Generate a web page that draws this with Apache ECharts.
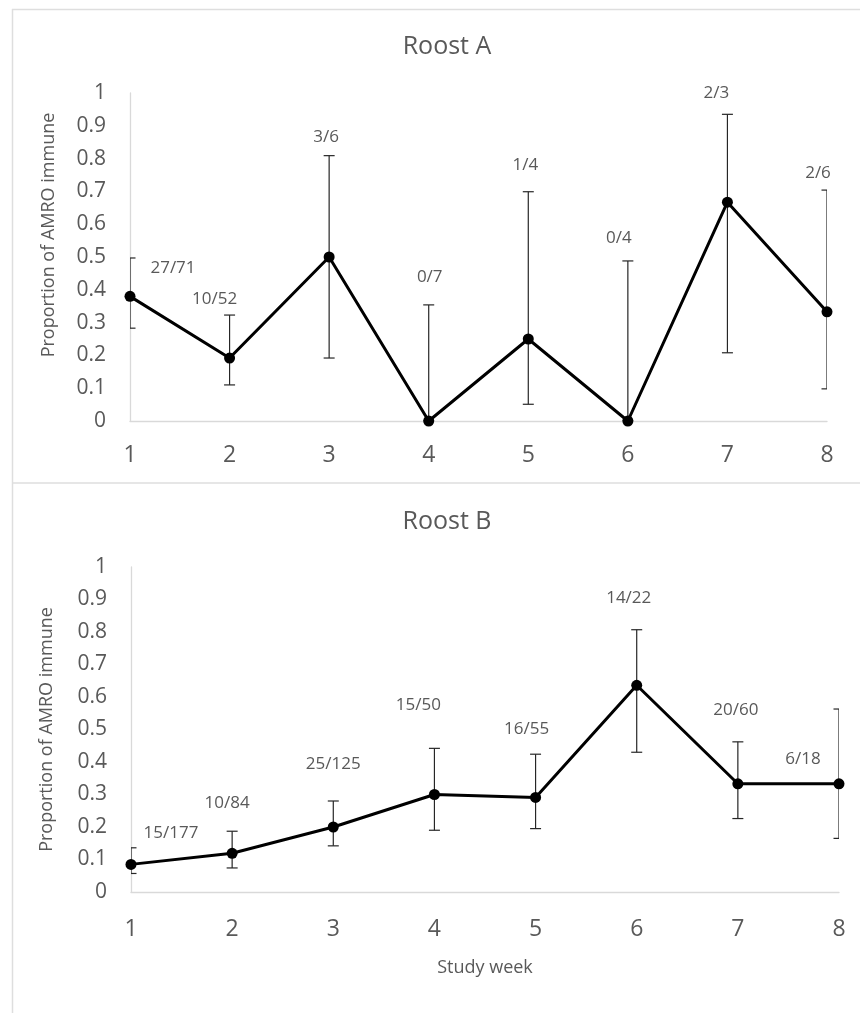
<!DOCTYPE html>
<html>
<head>
<meta charset="utf-8">
<script src="https://cdn.jsdelivr.net/npm/echarts@6/dist/echarts.min.js"></script>
<style>
  html, body { margin: 0; padding: 0; background: #fff; }
  #chart { width: 861px; height: 1013px; }
</style>
</head>
<body>
<div id="chart"></div>
<script>
// study weeks on the x axis
const weeks = [1, 2, 3, 4, 5, 6, 7, 8];

// Roost A: proportion immune, CI bounds, n/N labels
const propA = [0.380, 0.192, 0.5, 0, 0.25, 0, 0.667, 0.333];
const lowA = [0.283, 0.11, 0.192, 0, 0.051, 0, 0.208, 0.098];
const highA = [0.497, 0.323, 0.809, 0.354, 0.699, 0.488, 0.935, 0.704];
const labelsA = ['27/71', '10/52', '3/6', '0/7', '1/4', '0/4', '2/3', '2/6'];

// Roost B
const propB = [0.085, 0.119, 0.2, 0.3, 0.291, 0.636, 0.333, 0.333];
const lowB = [0.057, 0.074, 0.142, 0.19, 0.195, 0.43, 0.226, 0.165];
const highB = [0.136, 0.187, 0.28, 0.442, 0.424, 0.807, 0.462, 0.563];
const labelsB = ['15/177', '10/84', '25/125', '15/50', '16/55', '14/22', '20/60', '6/18'];

const yTicks = [0, 0.1, 0.2, 0.3, 0.4, 0.5, 0.6, 0.7, 0.8, 0.9, 1];

// label offsets (px) from each point, like manual Excel label placement
const offsA = [[43, -28], [-15, -59], [-3, -120], [1, -144], [-3, -174], [-9, -183], [-11, -109], [-9, -139]];
const offsB = [[40, -31], [-5, -50], [0, -63], [-16, -89], [-9, -68], [-8, -87], [-2, -74], [-36, -25]];

const FONT = '"Open Sans", sans-serif';
const TEXT = '#595959';
const AXIS = '#d9d9d9';

const chart = echarts.init(document.getElementById('chart'));

const errorSeries = (idx, low, high) => ({
  type: 'custom',
  xAxisIndex: idx,
  yAxisIndex: idx,
  clip: true,
  z: 2,
  data: weeks.map((w, i) => [w, low[i], high[i]]),
  renderItem: (params, api) => {
    const lo = api.coord([api.value(0), api.value(1)]);
    const hi = api.coord([api.value(0), api.value(2)]);
    const hw = 5.5;
    const st = { stroke: '#262626', lineWidth: 1.2 };
    return {
      type: 'group',
      children: [
        { type: 'line', shape: { x1: lo[0], y1: lo[1], x2: hi[0], y2: hi[1] }, style: st },
        { type: 'line', shape: { x1: hi[0] - hw, y1: hi[1], x2: hi[0] + hw, y2: hi[1] }, style: st },
        { type: 'line', shape: { x1: lo[0] - hw, y1: lo[1], x2: lo[0] + hw, y2: lo[1] }, style: st }
      ]
    };
  }
});

const lineSeries = (idx, prop, labels, offs) => ({
  type: 'line',
  xAxisIndex: idx,
  yAxisIndex: idx,
  z: 3,
  symbol: 'circle',
  symbolSize: 11,
  itemStyle: { color: '#000' },
  lineStyle: { color: '#000', width: 3 },
  data: weeks.map((w, i) => ({
    value: [w, prop[i]],
    label: { offset: offs[i] }
  })),
  label: {
    show: true,
    position: 'inside',
    color: TEXT,
    fontFamily: FONT,
    fontSize: 17,
    formatter: (p) => labels[p.dataIndex]
  },
  animation: false
});

const xAxisCfg = (idx, margin, extra) => Object.assign({
  type: 'value',
  gridIndex: idx,
  min: 1,
  max: 8,
  interval: 1,
  axisLine: { show: true, lineStyle: { color: AXIS, width: 1.3 } },
  axisTick: { show: false },
  splitLine: { show: false },
  axisLabel: { color: TEXT, fontFamily: FONT, fontSize: 23, margin: margin }
}, extra || {});

const yAxisCfg = (idx, gap, pad) => ({
  type: 'value',
  gridIndex: idx,
  min: 0,
  max: 1,
  interval: 0.1,
  axisLine: { show: true, lineStyle: { color: AXIS, width: 1.3 } },
  axisTick: { show: false },
  splitLine: { show: false },
  axisLabel: {
    color: TEXT, fontFamily: FONT, fontSize: 21, margin: 24,
    formatter: (v) => String(yTicks[Math.round(v * 10)])
  },
  name: 'Proportion of AMRO immune',
  nameLocation: 'middle',
  nameGap: gap,
  nameTextStyle: { color: TEXT, fontFamily: FONT, fontSize: 18, padding: pad }
});

chart.setOption({
  animation: false,
  title: [
    { text: 'Roost A', left: 442, textAlign: 'center', top: 29,
      textStyle: { color: TEXT, fontFamily: FONT, fontSize: 25, fontWeight: 'normal' } },
    { text: 'Roost B', left: 442, textAlign: 'center', top: 504,
      textStyle: { color: TEXT, fontFamily: FONT, fontSize: 25, fontWeight: 'normal' } }
  ],
  graphic: [
    { type: 'line', shape: { x1: 12, y1: 9.5, x2: 860, y2: 9.5 }, style: { stroke: '#dedede', lineWidth: 1.5 } },
    { type: 'line', shape: { x1: 12.5, y1: 9, x2: 12.5, y2: 1013 }, style: { stroke: '#dedede', lineWidth: 1.5 } },
    { type: 'line', shape: { x1: 12, y1: 483, x2: 860, y2: 483 }, style: { stroke: '#dedede', lineWidth: 1.5 } }
  ],
  grid: [
    { left: 130, right: 34, top: 93, bottom: 592 },
    { left: 131, right: 22, top: 567, bottom: 121 }
  ],
  xAxis: [
    xAxisCfg(0, 23),
    xAxisCfg(1, 26, {
      name: 'Study week',
      nameLocation: 'middle',
      nameGap: 67,
      nameTextStyle: { color: TEXT, fontFamily: FONT, fontSize: 18 }
    })
  ],
  yAxis: [
    yAxisCfg(0, 72, [0, 0, 0, 44]),
    yAxisCfg(1, 75, 0)
  ],
  series: [
    errorSeries(0, lowA, highA),
    lineSeries(0, propA, labelsA, offsA),
    errorSeries(1, lowB, highB),
    lineSeries(1, propB, labelsB, offsB)
  ]
});
</script>
</body>
</html>
